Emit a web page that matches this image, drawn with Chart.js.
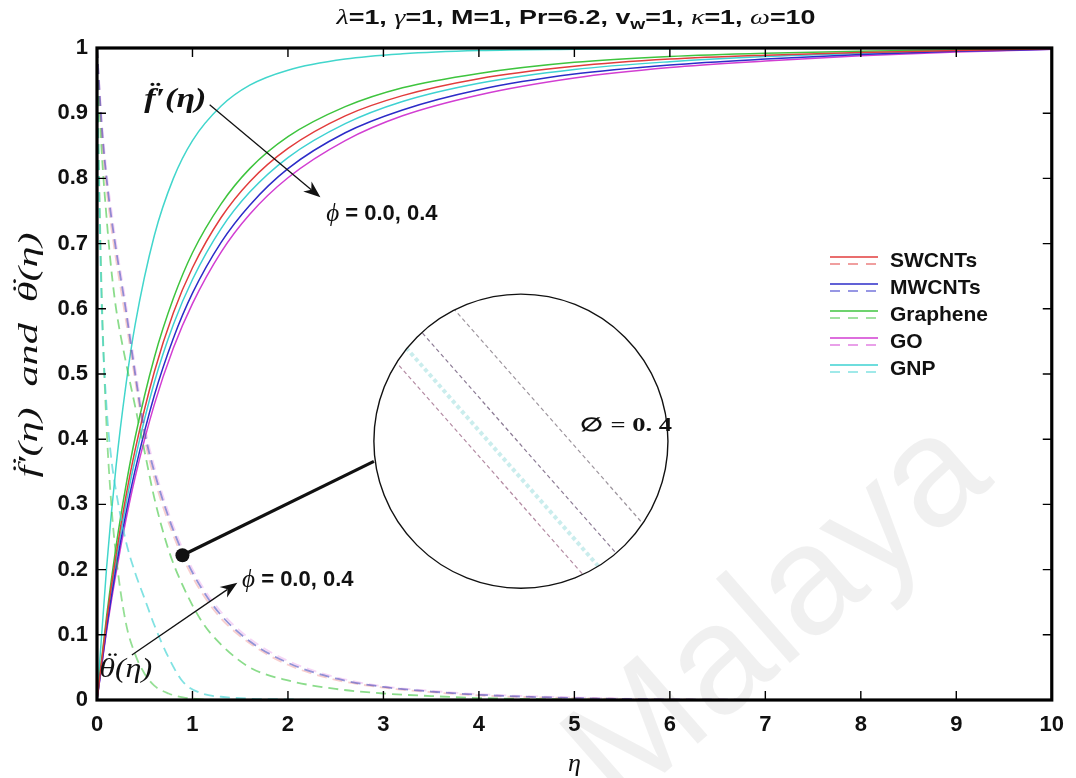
<!DOCTYPE html>
<html>
<head>
<meta charset="utf-8">
<script src="https://cdn.jsdelivr.net/npm/chart.js@4.4.1/dist/chart.umd.min.js"></script>
<style>
  html, body { margin: 0; padding: 0; background: #fff; }
  #wrap { width: 1076px; height: 778px; }
</style>
</head>
<body>
<div id="wrap"><canvas id="chart" width="1076" height="778"></canvas></div>
<script>
// Velocity f'(eta) (solid) and temperature theta(eta) (dashed) profiles
// for five carbon nanofluids, phi = 0.0 and 0.4

const fluids = ['SWCNTs', 'MWCNTs', 'Graphene', 'GO', 'GNP'];
const fluidColors = ['#e23c3c', '#2c2cc8', '#3ec43e', '#d23ed2', '#3ed2d2'];

const xTickLabels = ['0', '1', '2', '3', '4', '5', '6', '7', '8', '9', '10'];
const yTickLabels = ['0', '0.1', '0.2', '0.3', '0.4', '0.5', '0.6', '0.7', '0.8', '0.9', '1'];

// f'(eta)
const etaF = [0, 0.1, 0.2, 0.3, 0.4, 0.6, 0.8, 1.0, 1.3, 1.6, 2.0, 2.6, 3.2, 4.0, 5.0, 6.0, 7.0, 8.0, 9.0, 10];
const fBase     = [0, 0.202, 0.359, 0.480, 0.576, 0.712, 0.800, 0.858, 0.911, 0.943, 0.966, 0.983, 0.991, 0.996, 0.998, 0.999, 1, 1, 1, 1];
const fSWCNT    = [0, 0.121, 0.223, 0.310, 0.384, 0.503, 0.594, 0.663, 0.740, 0.795, 0.846, 0.896, 0.927, 0.953, 0.972, 0.983, 0.989, 0.993, 0.996, 0.999];
const fMWCNT    = [0, 0.109, 0.203, 0.284, 0.353, 0.467, 0.555, 0.624, 0.702, 0.759, 0.815, 0.870, 0.905, 0.936, 0.960, 0.974, 0.983, 0.990, 0.995, 0.998];
const fGraphene = [0, 0.128, 0.236, 0.326, 0.403, 0.525, 0.616, 0.686, 0.761, 0.815, 0.864, 0.910, 0.939, 0.961, 0.978, 0.987, 0.992, 0.995, 0.997, 0.999];
const fGO       = [0, 0.105, 0.195, 0.274, 0.342, 0.453, 0.540, 0.608, 0.687, 0.745, 0.801, 0.858, 0.896, 0.928, 0.954, 0.970, 0.980, 0.988, 0.994, 0.998];
const fGNP      = [0, 0.115, 0.214, 0.298, 0.370, 0.487, 0.576, 0.645, 0.723, 0.779, 0.832, 0.884, 0.918, 0.946, 0.967, 0.979, 0.987, 0.992, 0.996, 0.999];

// theta(eta)
const etaT = [0, 0.02, 0.05, 0.1, 0.15, 0.2, 0.3, 0.4, 0.5, 0.6, 0.75, 0.9, 1.1, 1.3, 1.6, 2, 2.5, 3, 3.5, 4, 5, 6, 8, 10];
const tBase     = [1, 0.82, 0.62, 0.42, 0.30, 0.22, 0.12, 0.07, 0.04, 0.022, 0.010, 0.004, 0.001, 0, 0, 0, 0, 0, 0, 0, 0, 0, 0, 0];
const tSWCNT    = [1, 0.945, 0.87, 0.785, 0.725, 0.675, 0.585, 0.49, 0.40, 0.34, 0.272, 0.218, 0.164, 0.125, 0.087, 0.054, 0.031, 0.019, 0.012, 0.007, 0.003, 0.001, 0, 0];
const tMWCNT    = [1, 0.95, 0.88, 0.80, 0.74, 0.69, 0.60, 0.50, 0.41, 0.35, 0.28, 0.225, 0.17, 0.13, 0.09, 0.057, 0.033, 0.02, 0.013, 0.008, 0.003, 0.001, 0, 0];
const tGraphene = [1, 0.93, 0.84, 0.74, 0.66, 0.60, 0.52, 0.45, 0.38, 0.31, 0.23, 0.175, 0.12, 0.085, 0.05, 0.03, 0.017, 0.01, 0.006, 0.003, 0.001, 0, 0, 0];
const tGO       = [1, 0.955, 0.89, 0.81, 0.752, 0.70, 0.61, 0.51, 0.42, 0.358, 0.287, 0.231, 0.175, 0.135, 0.094, 0.06, 0.035, 0.021, 0.014, 0.009, 0.004, 0.001, 0, 0];
const tGNP      = [1, 0.80, 0.60, 0.45, 0.37, 0.32, 0.245, 0.195, 0.155, 0.115, 0.065, 0.028, 0.01, 0.005, 0.002, 0.001, 0, 0, 0, 0, 0, 0, 0, 0];

const fSeries = [fSWCNT, fMWCNT, fGraphene, fGO, fGNP];
const tSeries = [tSWCNT, tMWCNT, tGraphene, tGO, tGNP];
const dashColors = ['rgba(226,60,60,0.25)', 'rgba(80,80,190,0.62)', 'rgba(62,196,62,0.6)', 'rgba(210,62,210,0.22)', 'rgba(62,210,210,0.65)'];

const SANS = '"Liberation Sans", Arial, sans-serif';
const SERIF = '"Liberation Serif", "DejaVu Serif", serif';

function toPoints(xs, ys) {
    return xs.map((x, i) => ({ x: x, y: ys[i] }));
}

function hexAlpha(hex, a) {
    const n = parseInt(hex.slice(1), 16);
    return `rgba(${(n >> 16) & 255}, ${(n >> 8) & 255}, ${n & 255}, ${a})`;
}

// Chart.js paints the first dataset on top: MWCNT dashed goes first
const datasets = [];
[1, 0, 3, 2, 4].forEach(i => {
    datasets.push({
        label: fluids[i] + ' theta',
        data: toPoints(etaT, tSeries[i]),
        borderColor: dashColors[i],
        borderWidth: 1.8,
        borderDash: [10, 6]
    });
});
datasets.push({ label: 'base theta', data: toPoints(etaT, tBase), borderColor: 'rgba(62,196,62,0.55)', borderWidth: 1.8, borderDash: [10, 6] });
fSeries.forEach((s, i) => {
    datasets.push({
        label: fluids[i],
        data: toPoints(etaF, s),
        borderColor: fluidColors[i],
        borderWidth: 1.5
    });
});
datasets.push({ label: 'base', data: toPoints(etaF, fBase), borderColor: '#42d6cc', borderWidth: 1.5 });

// annotation anchors, in data units
const notes = {
    fLabel: { x: 0.82, y: 0.92 },
    fArrow: [{ x: 1.18, y: 0.913 }, { x: 2.34, y: 0.771 }],
    phiTop: { x: 2.4, y: 0.745 },
    tLabel: { x: 0.3, y: 0.046 },
    tArrow: [{ x: 0.365, y: 0.069 }, { x: 1.47, y: 0.18 }],
    phiBottom: { x: 1.52, y: 0.184 },
    dot: { x: 0.895, y: 0.222 },
    join: { x: 2.9, y: 0.366 },
    lens: { x: 4.44, y: 0.397, r: 1.54 },
    lensText: { x: 5.06, y: 0.42 }
};

// draws mixed-font runs; runs flagged dd get a diaeresis; width stretches the line
function drawRuns(ctx, runs, x, y, align, width) {
    let total = 0;
    runs.forEach(r => { ctx.font = r.font; r.w = ctx.measureText(r.t).width; total += r.w; });
    const sx = width ? width / total : 1;
    ctx.save();
    ctx.translate(x, y);
    ctx.scale(sx, 1);
    let cx = align === 'center' ? -total / 2 : 0;
    ctx.textAlign = 'left';
    ctx.textBaseline = 'middle';
    runs.forEach(r => {
        ctx.font = r.font;
        ctx.fillText(r.t, cx, r.dy || 0);
        if (r.dd) {
            const size = parseFloat(r.font.match(/(\d+)px/)[1]);
            ctx.textAlign = 'center';
            ctx.fillText('\u00a8', cx + r.w / 2 + size * 0.1, -size * 0.22);
            ctx.textAlign = 'left';
        }
        cx += r.w;
    });
    ctx.restore();
}

function arrow(ctx, x1, y1, x2, y2) {
    const a = Math.atan2(y2 - y1, x2 - x1);
    const L = 17, W = 6.5;
    ctx.beginPath();
    ctx.moveTo(x1, y1);
    ctx.lineTo(x2 - L * 0.7 * Math.cos(a), y2 - L * 0.7 * Math.sin(a));
    ctx.stroke();
    ctx.beginPath();
    ctx.moveTo(x2, y2);
    ctx.lineTo(x2 - L * Math.cos(a) + W * Math.sin(a), y2 - L * Math.sin(a) - W * Math.cos(a));
    ctx.lineTo(x2 - L * 0.7 * Math.cos(a), y2 - L * 0.7 * Math.sin(a));
    ctx.lineTo(x2 - L * Math.cos(a) - W * Math.sin(a), y2 - L * Math.sin(a) + W * Math.cos(a));
    ctx.closePath();
    ctx.fill();
}

const decorations = {
    id: 'decorations',
    beforeDraw(chart) {
        const ctx = chart.ctx;
        ctx.save();
        ctx.fillStyle = '#fff';
        ctx.fillRect(0, 0, chart.width, chart.height);
        // watermark
        ctx.translate(620, 812);
        ctx.rotate(-0.72);
        ctx.font = '155px ' + SANS;
        ctx.fillStyle = 'rgba(0, 0, 0, 0.06)';
        ctx.textAlign = 'left';
        ctx.textBaseline = 'alphabetic';
        ctx.fillText('Malaya', 0, 0);
        ctx.restore();
    },
    afterDraw(chart) {
        const ctx = chart.ctx;
        const xs = chart.scales.x, ys = chart.scales.y;
        const area = chart.chartArea;
        const px = p => [xs.getPixelForValue(p.x), ys.getPixelForValue(p.y)];
        ctx.save();

        // frame and inward ticks
        ctx.strokeStyle = '#000';
        ctx.lineWidth = 1.4;
        ctx.beginPath();
        xTickLabels.forEach((t, i) => {
            const x = xs.getPixelForValue(i);
            ctx.moveTo(x, area.bottom); ctx.lineTo(x, area.bottom - 9);
            ctx.moveTo(x, area.top); ctx.lineTo(x, area.top + 9);
        });
        yTickLabels.forEach((t, i) => {
            const y = ys.getPixelForValue(i / 10);
            ctx.moveTo(area.left, y); ctx.lineTo(area.left + 9, y);
            ctx.moveTo(area.right, y); ctx.lineTo(area.right - 9, y);
        });
        ctx.stroke();
        ctx.lineWidth = 3.2;
        ctx.strokeRect(area.left, area.top, area.right - area.left, area.bottom - area.top);

        // title
        ctx.fillStyle = '#111';
        const B = 'bold 21px ' + SANS;
        const I = 'italic 22px ' + SERIF;
        drawRuns(ctx, [
            { t: '\u03bb', font: I }, { t: '=1, ', font: B },
            { t: '\u03b3', font: I }, { t: '=1, M=1, Pr=6.2, v', font: B },
            { t: 'w', font: 'bold 15px ' + SANS, dy: 7 }, { t: '=1, ', font: B },
            { t: '\u03ba', font: I }, { t: '=1, ', font: B },
            { t: '\u03c9', font: I }, { t: '=10', font: B }
        ], 576, 18, 'center', 479);

        // axis titles
        ctx.font = 'italic 26px ' + SERIF;
        ctx.textAlign = 'center';
        ctx.textBaseline = 'middle';
        ctx.fillText('\u03b7', (area.left + area.right) / 2, 764);
        const Y = 'italic 28px ' + SERIF;
        ctx.save();
        ctx.translate(30, 355);
        ctx.rotate(-Math.PI / 2);
        drawRuns(ctx, [
            { t: 'f', font: Y, dd: true }, { t: '\u2032(\u03b7)  and  ', font: Y },
            { t: '\u03b8', font: Y, dd: true }, { t: '(\u03b7)', font: Y }
        ], 0, 0, 'center', 245);
        ctx.restore();

        // curve labels and arrows
        ctx.lineWidth = 1.3;
        ctx.strokeStyle = '#111';
        ctx.fillStyle = '#111';
        const FL = 'bold italic 27px ' + SERIF;
        let p = px(notes.fLabel);
        drawRuns(ctx, [{ t: 'f', font: FL, dd: true }, { t: '\u2032(\u03b7)', font: FL }], p[0], p[1], 'center', 62);
        let a = px(notes.fArrow[0]), b = px(notes.fArrow[1]);
        arrow(ctx, a[0], a[1], b[0], b[1]);

        p = px(notes.tLabel);
        const TL = 'italic 27px ' + SERIF;
        drawRuns(ctx, [{ t: '\u03b8', font: TL, dd: true }, { t: '(\u03b7)', font: TL }], p[0], p[1], 'center', 53);
        a = px(notes.tArrow[0]); b = px(notes.tArrow[1]);
        arrow(ctx, a[0], a[1], b[0], b[1]);

        const phiRuns = () => [{ t: '\u03d5', font: 'italic 25px ' + SERIF }, { t: ' = 0.0, 0.4', font: 'bold 22px ' + SANS }];
        p = px(notes.phiTop);
        drawRuns(ctx, phiRuns(), p[0], p[1], 'left');
        p = px(notes.phiBottom);
        drawRuns(ctx, phiRuns(), p[0], p[1], 'left');

        // magnifier lens and its pointer
        const c = px(notes.lens);
        const r = xs.getPixelForValue(notes.lens.x + notes.lens.r) - c[0];
        const d = px(notes.dot);
        const j = px(notes.join);
        ctx.lineWidth = 3.2;
        ctx.beginPath();
        ctx.moveTo(d[0], d[1]);
        ctx.lineTo(j[0], j[1]);
        ctx.stroke();
        ctx.beginPath();
        ctx.arc(d[0], d[1], 7, 0, Math.PI * 2);
        ctx.fill();

        ctx.save();
        ctx.beginPath();
        ctx.arc(c[0], c[1], r, 0, Math.PI * 2);
        ctx.fillStyle = '#fff';
        ctx.fill();
        ctx.clip();
        const dir = [0.66, 0.75];
        const lensLines = [
            { o: [0.23, -0.12], col: 'rgba(140,130,140,0.85)', w: 1.2 },
            { o: [-0.01, 0.015], col: 'rgba(120,100,130,0.85)', w: 1.2 },
            { o: [-0.09, 0.15], col: 'rgba(150,220,220,0.5)', w: 4 },
            { o: [-0.2, 0.2], col: 'rgba(160,110,140,0.8)', w: 1.2 }
        ];
        ctx.setLineDash([4, 3]);
        lensLines.forEach(l => {
            const cx = c[0] + l.o[0] * r, cy = c[1] + l.o[1] * r;
            ctx.strokeStyle = l.col;
            ctx.lineWidth = l.w;
            ctx.beginPath();
            ctx.moveTo(cx - dir[0] * 2 * r, cy - dir[1] * 2 * r);
            ctx.lineTo(cx + dir[0] * 2 * r, cy + dir[1] * 2 * r);
            ctx.stroke();
        });
        ctx.restore();
        ctx.setLineDash([]);
        ctx.strokeStyle = '#111';
        ctx.lineWidth = 1.4;
        ctx.beginPath();
        ctx.arc(c[0], c[1], r, 0, Math.PI * 2);
        ctx.stroke();
        p = px(notes.lensText);
        ctx.fillStyle = '#111';
        drawRuns(ctx, [{ t: '\u2205 = 0. 4', font: 'bold 19px ' + SERIF }], p[0], p[1], 'left', 92);

        // legend: solid and dashed sample per fluid
        fluids.forEach((name, i) => {
            const y = 261 + i * 27;
            ctx.lineWidth = 1.6;
            ctx.strokeStyle = fluidColors[i];
            ctx.setLineDash([]);
            ctx.beginPath(); ctx.moveTo(830, y - 4); ctx.lineTo(878, y - 4); ctx.stroke();
            ctx.strokeStyle = hexAlpha(fluidColors[i], 0.65);
            ctx.setLineDash([10, 8]);
            ctx.beginPath(); ctx.moveTo(830, y + 3); ctx.lineTo(878, y + 3); ctx.stroke();
            ctx.setLineDash([]);
            ctx.fillStyle = '#111';
            ctx.font = 'bold 21px ' + SANS;
            ctx.textAlign = 'left';
            ctx.textBaseline = 'middle';
            ctx.fillText(name, 890, y);
        });
        ctx.restore();
    }
};

const tickFont = { family: SANS, size: 22, weight: 'bold' };

new Chart(document.getElementById('chart'), {
    type: 'line',
    data: { datasets: datasets },
    options: {
        responsive: false,
        animation: false,
        layout: { padding: { left: 0, right: 19, top: 48, bottom: 0 } },
        elements: {
            point: { radius: 0 },
            line: { cubicInterpolationMode: 'monotone', fill: false }
        },
        plugins: {
            legend: { display: false },
            title: { display: false },
            tooltip: { enabled: false }
        },
        scales: {
            x: {
                type: 'linear',
                min: 0,
                max: 10,
                afterFit: s => { s.height = 78; },
                grid: { display: false, drawTicks: false },
                border: { display: false },
                ticks: {
                    stepSize: 1,
                    maxRotation: 0,
                    padding: 12,
                    color: '#111',
                    font: tickFont,
                    callback: (v, i) => xTickLabels[i]
                }
            },
            y: {
                min: 0,
                max: 1,
                afterFit: s => { s.width = 97; },
                grid: { display: false, drawTicks: false },
                border: { display: false },
                ticks: {
                    stepSize: 0.1,
                    padding: 9,
                    color: '#111',
                    font: tickFont,
                    callback: (v, i) => yTickLabels[i]
                }
            }
        }
    },
    plugins: [decorations]
});
</script>
</body>
</html>
